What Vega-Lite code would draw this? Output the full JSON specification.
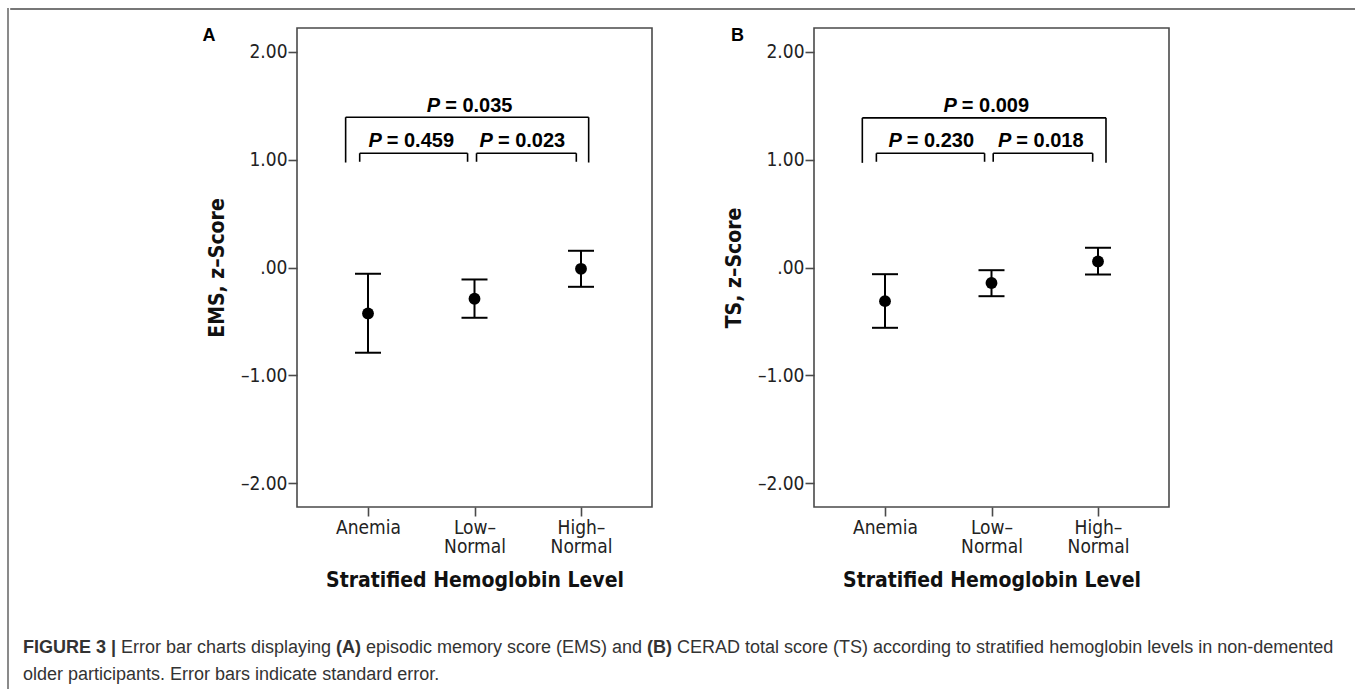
{
  "$schema": "https://vega.github.io/schema/vega-lite/v6.json",
  "padding": {"left": 7, "top": 8, "right": 0, "bottom": 0},
  "background": "white",
  "config": {"view": {"stroke": null}},
  "datasets": {
    "ems": [
      {"cat": 1, "mean": -0.426, "lo": -0.79, "hi": -0.058},
      {"cat": 2, "mean": -0.29, "lo": -0.466, "hi": -0.111},
      {"cat": 3, "mean": -0.012, "lo": -0.179, "hi": 0.155}
    ],
    "ts": [
      {"cat": 1, "mean": -0.312, "lo": -0.559, "hi": -0.062},
      {"cat": 2, "mean": -0.144, "lo": -0.266, "hi": -0.025},
      {"cat": 3, "mean": 0.056, "lo": -0.065, "hi": 0.183}
    ],
    "brkA": [
      {"x": 0.79, "x2": 3.072, "y": 1.393, "y2": 1.393},
      {"x": 0.79, "x2": 0.79, "y": 1.393, "y2": 0.973},
      {"x": 3.072, "x2": 3.072, "y": 1.393, "y2": 0.973},
      {"x": 0.922, "x2": 1.935, "y": 1.059, "y2": 1.059},
      {"x": 0.922, "x2": 0.922, "y": 1.059, "y2": 0.98},
      {"x": 1.935, "x2": 1.935, "y": 1.059, "y2": 0.98},
      {"x": 2.019, "x2": 2.956, "y": 1.059, "y2": 1.059},
      {"x": 2.019, "x2": 2.019, "y": 1.059, "y2": 0.98},
      {"x": 2.956, "x2": 2.956, "y": 1.059, "y2": 0.98}
    ],
    "brkB": [
      {"x": 0.787, "x2": 3.075, "y": 1.387, "y2": 1.387},
      {"x": 0.787, "x2": 0.787, "y": 1.387, "y2": 0.97},
      {"x": 3.075, "x2": 3.075, "y": 1.387, "y2": 0.97},
      {"x": 0.919, "x2": 1.935, "y": 1.059, "y2": 1.059},
      {"x": 0.919, "x2": 0.919, "y": 1.059, "y2": 0.98},
      {"x": 1.935, "x2": 1.935, "y": 1.059, "y2": 0.98},
      {"x": 2.016, "x2": 2.95, "y": 1.059, "y2": 1.059},
      {"x": 2.016, "x2": 2.016, "y": 1.059, "y2": 0.98},
      {"x": 2.95, "x2": 2.95, "y": 1.059, "y2": 0.98}
    ],
    "pA": [
      {"x": 1.678, "y": 1.443, "label": "= 0.035"},
      {"x": 1.129, "y": 1.115, "label": "= 0.459"},
      {"x": 2.173, "y": 1.115, "label": "= 0.023"}
    ],
    "pB": [
      {"x": 1.674, "y": 1.438, "label": "= 0.009"},
      {"x": 1.157, "y": 1.115, "label": "= 0.230"},
      {"x": 2.186, "y": 1.115, "label": "= 0.018"}
    ],
    "labA": [{"x": -0.554, "y": 2.097, "t": "A"}],
    "labB": [{"x": -0.447, "y": 2.097, "t": "B"}]
  },
  "spacing": 0,
  "hconcat": [
    {
      "width": 0.01,
      "height": 680,
      "view": {"stroke": "#8a8a8a", "strokeWidth": 2},
      "data": {"values": []},
      "mark": {"type": "text"},
      "encoding": {"text": {"field": "t"}}
    },
    {
      "spacing": 16,
      "vconcat": [
        {
          "width": 1348,
          "height": 0.01,
          "view": {"stroke": "#4a4a4a", "strokeWidth": 1.6},
          "data": {"values": []},
          "mark": {"type": "text"},
          "encoding": {"text": {"field": "t"}}
        },
        {
          "spacing": 69,
          "hconcat": [
            {
              "width": 121,
              "height": 10,
              "data": {"values": []},
              "mark": {"type": "text"},
              "encoding": {"text": {"field": "t"}}
            },
            {
              "width": 355,
              "height": 479,
              "view": {"stroke": "#4a4a4a", "strokeWidth": 1.6},
              "layer": [
                {
                  "data": {"name": "ems"},
                  "mark": {"type": "rule", "color": "black", "strokeWidth": 2},
                  "encoding": {
                    "x": {"field": "cat", "type": "quantitative",
                      "scale": {"domain": [0.3333, 3.6667], "nice": false, "zero": false},
                      "axis": {"values": [1, 2, 3], "grid": false, "domain": false,
                        "labelExpr": "datum.value == 1 ? 'Anemia' : (datum.value == 2 ? ['Low–', 'Normal'] : ['High–', 'Normal'])",
                        "labelFont": "DejaVu Sans Condensed, DejaVu Sans", "labelFontSize": 19, "labelColor": "#222", "labelLineHeight": 19, "labelPadding": 2,
                        "tickColor": "#4a4a4a", "tickWidth": 1.6, "tickSize": 9,
                        "title": "Stratified Hemoglobin Level", "titleFont": "DejaVu Sans Condensed, DejaVu Sans", "titleFontWeight": "bold", "titleFontSize": 21, "titleColor": "#111", "titlePadding": 13}},
                    "y": {"field": "lo", "type": "quantitative",
                      "scale": {"domain": [-2.22, 2.22], "nice": false, "zero": false},
                      "axis": {"values": [-2, -1, 0, 1, 2], "grid": false, "domain": false,
                        "labelExpr": "datum.value == 0 ? '.00' : (datum.value < 0 ? '–' + format(-datum.value, '.2f') : format(datum.value, '.2f'))",
                        "labelFont": "DejaVu Sans Condensed, DejaVu Sans", "labelFontSize": 19, "labelColor": "#222", "labelPadding": 1,
                        "tickColor": "#4a4a4a", "tickWidth": 1.6, "tickSize": 9,
                        "title": "EMS, z–Score", "titleFont": "DejaVu Sans Condensed, DejaVu Sans", "titleFontWeight": "bold", "titleFontSize": 21, "titleColor": "#111", "titlePadding": 13}},
                    "y2": {"field": "hi"}
                  }
                },
                {
                  "data": {"name": "ems"},
                  "mark": {"type": "tick", "orient": "horizontal", "size": 26, "thickness": 2, "color": "black", "opacity": 1},
                  "encoding": {"x": {"field": "cat", "type": "quantitative"}, "y": {"field": "lo", "type": "quantitative"}}
                },
                {
                  "data": {"name": "ems"},
                  "mark": {"type": "tick", "orient": "horizontal", "size": 26, "thickness": 2, "color": "black", "opacity": 1},
                  "encoding": {"x": {"field": "cat", "type": "quantitative"}, "y": {"field": "hi", "type": "quantitative"}}
                },
                {
                  "data": {"name": "ems"},
                  "mark": {"type": "circle", "size": 140, "color": "black", "opacity": 1},
                  "encoding": {"x": {"field": "cat", "type": "quantitative"}, "y": {"field": "mean", "type": "quantitative"}}
                },
                {
                  "data": {"name": "brkA"},
                  "mark": {"type": "rule", "color": "black", "strokeWidth": 1.6},
                  "encoding": {"x": {"field": "x", "type": "quantitative"}, "x2": {"field": "x2"}, "y": {"field": "y", "type": "quantitative"}, "y2": {"field": "y2"}}
                },
                {
                  "data": {"name": "pA"},
                  "mark": {"type": "text", "text": "P", "font": "Liberation Sans", "fontSize": 20, "fontWeight": "bold", "fontStyle": "italic", "align": "right", "baseline": "alphabetic", "color": "black"},
                  "encoding": {"x": {"field": "x", "type": "quantitative"}, "y": {"field": "y", "type": "quantitative"}}
                },
                {
                  "data": {"name": "pA"},
                  "mark": {"type": "text", "font": "Liberation Sans", "fontSize": 20, "fontWeight": "bold", "align": "left", "baseline": "alphabetic", "dx": 5, "color": "black"},
                  "encoding": {"x": {"field": "x", "type": "quantitative"}, "y": {"field": "y", "type": "quantitative"}, "text": {"field": "label"}}
                },
                {
                  "data": {"name": "labA"},
                  "mark": {"type": "text", "font": "Liberation Sans", "fontSize": 18, "fontWeight": "bold", "align": "left", "baseline": "alphabetic", "color": "black"},
                  "encoding": {"x": {"field": "x", "type": "quantitative"}, "y": {"field": "y", "type": "quantitative"}, "text": {"field": "t"}}
                }
              ]
            },
            {
              "width": 355,
              "height": 479,
              "view": {"stroke": "#4a4a4a", "strokeWidth": 1.6},
              "layer": [
                {
                  "data": {"name": "ts"},
                  "mark": {"type": "rule", "color": "black", "strokeWidth": 2},
                  "encoding": {
                    "x": {"field": "cat", "type": "quantitative",
                      "scale": {"domain": [0.3333, 3.6667], "nice": false, "zero": false},
                      "axis": {"values": [1, 2, 3], "grid": false, "domain": false,
                        "labelExpr": "datum.value == 1 ? 'Anemia' : (datum.value == 2 ? ['Low–', 'Normal'] : ['High–', 'Normal'])",
                        "labelFont": "DejaVu Sans Condensed, DejaVu Sans", "labelFontSize": 19, "labelColor": "#222", "labelLineHeight": 19, "labelPadding": 2,
                        "tickColor": "#4a4a4a", "tickWidth": 1.6, "tickSize": 9,
                        "title": "Stratified Hemoglobin Level", "titleFont": "DejaVu Sans Condensed, DejaVu Sans", "titleFontWeight": "bold", "titleFontSize": 21, "titleColor": "#111", "titlePadding": 13}},
                    "y": {"field": "lo", "type": "quantitative",
                      "scale": {"domain": [-2.22, 2.22], "nice": false, "zero": false},
                      "axis": {"values": [-2, -1, 0, 1, 2], "grid": false, "domain": false,
                        "labelExpr": "datum.value == 0 ? '.00' : (datum.value < 0 ? '–' + format(-datum.value, '.2f') : format(datum.value, '.2f'))",
                        "labelFont": "DejaVu Sans Condensed, DejaVu Sans", "labelFontSize": 19, "labelColor": "#222", "labelPadding": 1,
                        "tickColor": "#4a4a4a", "tickWidth": 1.6, "tickSize": 9,
                        "title": "TS, z–Score", "titleFont": "DejaVu Sans Condensed, DejaVu Sans", "titleFontWeight": "bold", "titleFontSize": 21, "titleColor": "#111", "titlePadding": 13}},
                    "y2": {"field": "hi"}
                  }
                },
                {
                  "data": {"name": "ts"},
                  "mark": {"type": "tick", "orient": "horizontal", "size": 26, "thickness": 2, "color": "black", "opacity": 1},
                  "encoding": {"x": {"field": "cat", "type": "quantitative"}, "y": {"field": "lo", "type": "quantitative"}}
                },
                {
                  "data": {"name": "ts"},
                  "mark": {"type": "tick", "orient": "horizontal", "size": 26, "thickness": 2, "color": "black", "opacity": 1},
                  "encoding": {"x": {"field": "cat", "type": "quantitative"}, "y": {"field": "hi", "type": "quantitative"}}
                },
                {
                  "data": {"name": "ts"},
                  "mark": {"type": "circle", "size": 140, "color": "black", "opacity": 1},
                  "encoding": {"x": {"field": "cat", "type": "quantitative"}, "y": {"field": "mean", "type": "quantitative"}}
                },
                {
                  "data": {"name": "brkB"},
                  "mark": {"type": "rule", "color": "black", "strokeWidth": 1.6},
                  "encoding": {"x": {"field": "x", "type": "quantitative"}, "x2": {"field": "x2"}, "y": {"field": "y", "type": "quantitative"}, "y2": {"field": "y2"}}
                },
                {
                  "data": {"name": "pB"},
                  "mark": {"type": "text", "text": "P", "font": "Liberation Sans", "fontSize": 20, "fontWeight": "bold", "fontStyle": "italic", "align": "right", "baseline": "alphabetic", "color": "black"},
                  "encoding": {"x": {"field": "x", "type": "quantitative"}, "y": {"field": "y", "type": "quantitative"}}
                },
                {
                  "data": {"name": "pB"},
                  "mark": {"type": "text", "font": "Liberation Sans", "fontSize": 20, "fontWeight": "bold", "align": "left", "baseline": "alphabetic", "dx": 5, "color": "black"},
                  "encoding": {"x": {"field": "x", "type": "quantitative"}, "y": {"field": "y", "type": "quantitative"}, "text": {"field": "label"}}
                },
                {
                  "data": {"name": "labB"},
                  "mark": {"type": "text", "font": "Liberation Sans", "fontSize": 18, "fontWeight": "bold", "align": "left", "baseline": "alphabetic", "color": "black"},
                  "encoding": {"x": {"field": "x", "type": "quantitative"}, "y": {"field": "y", "type": "quantitative"}, "text": {"field": "t"}}
                }
              ]
            }
          ]
        },
        {
          "width": 1348,
          "height": 76,
          "data": {"values": [{"t": ""}]},
          "layer": [
            {"mark": {"type": "text", "text": "FIGURE 3 |", "x": 12, "y": 46, "align": "left", "baseline": "alphabetic", "font": "Liberation Sans", "fontSize": 18, "fontWeight": "bold", "color": "#333"}, "encoding": {}},
            {"mark": {"type": "text", "text": "Error bar charts displaying", "x": 110, "y": 46, "align": "left", "baseline": "alphabetic", "font": "Liberation Sans", "fontSize": 18, "color": "#333"}, "encoding": {}},
            {"mark": {"type": "text", "text": "(A)", "x": 325, "y": 46, "align": "left", "baseline": "alphabetic", "font": "Liberation Sans", "fontSize": 18, "fontWeight": "bold", "color": "#333"}, "encoding": {}},
            {"mark": {"type": "text", "text": "episodic memory score (EMS) and", "x": 355, "y": 46, "align": "left", "baseline": "alphabetic", "font": "Liberation Sans", "fontSize": 18, "color": "#333"}, "encoding": {}},
            {"mark": {"type": "text", "text": "(B)", "x": 636, "y": 46, "align": "left", "baseline": "alphabetic", "font": "Liberation Sans", "fontSize": 18, "fontWeight": "bold", "color": "#333"}, "encoding": {}},
            {"mark": {"type": "text", "text": "CERAD total score (TS) according to stratified hemoglobin levels in non-demented", "x": 666, "y": 46, "align": "left", "baseline": "alphabetic", "font": "Liberation Sans", "fontSize": 18, "color": "#333"}, "encoding": {}},
            {"mark": {"type": "text", "text": "older participants. Error bars indicate standard error.", "x": 12, "y": 73, "align": "left", "baseline": "alphabetic", "font": "Liberation Sans", "fontSize": 18, "color": "#333"}, "encoding": {}}
          ]
        }
      ]
    }
  ]
}
